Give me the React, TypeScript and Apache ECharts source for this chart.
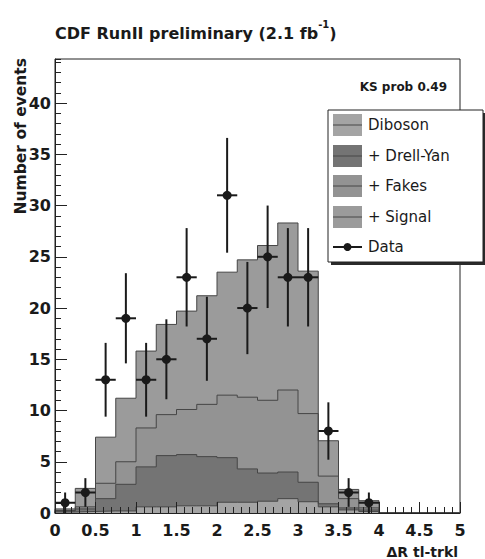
import React, { useEffect, useRef } from "react";
import * as echarts from "echarts";

// Lower edges of the ΔR bins (width 0.25)
const BIN_LOW = [0, 0.25, 0.5, 0.75, 1, 1.25, 1.5, 1.75, 2, 2.25, 2.5, 2.75, 3, 3.25, 3.5, 3.75, 4, 4.25, 4.5, 4.75];
const BIN_WIDTH = 0.25;

// Expected contributions per bin (events)
const DIBOSON = [0.1, 0.15, 0.2, 0.2, 0.6, 0.6, 0.7, 0.7, 1.05, 1.05, 1.15, 1.4, 1.1, 0.6, 0.3, 0.15, 0, 0, 0, 0];
const DRELL_YAN = [0.1, 0.25, 1.2, 2.6, 3.9, 5.0, 5.0, 4.8, 4.35, 3.25, 2.75, 2.6, 1.9, 0.3, 0.2, 0.15, 0, 0, 0, 0];
const FAKES = [0.05, 0.2, 1.5, 2.2, 3.8, 4.0, 4.4, 5.1, 6.1, 7.0, 7.1, 8.0, 6.7, 2.7, 0.9, 0.2, 0, 0, 0, 0];
const SIGNAL = [0.15, 1.8, 4.5, 6.2, 7.5, 8.8, 9.6, 10.6, 12.0, 13.4, 15.1, 16.3, 13.9, 3.45, 0.9, 0.7, 0, 0, 0, 0];

// Observed events (bin centres) with their uncertainties
const DATA_X = [0.125, 0.375, 0.625, 0.875, 1.125, 1.375, 1.625, 1.875, 2.125, 2.375, 2.625, 2.875, 3.125, 3.375, 3.625, 3.875];
const DATA_Y = [1, 2, 13, 19, 13, 15, 23, 17, 31, 20, 25, 23, 23, 8, 2, 1];
const DATA_ERR = [1, 1.4, 3.6, 4.4, 3.6, 3.9, 4.8, 4.1, 5.6, 4.5, 5, 4.8, 4.8, 2.8, 1.4, 1];

const LAYERS = [
  { name: "Diboson", values: DIBOSON, color: "#a4a4a4" },
  { name: "+ Drell-Yan", values: DRELL_YAN, color: "#747474" },
  { name: "+ Fakes", values: FAKES, color: "#939393" },
  { name: "+ Signal", values: SIGNAL, color: "#9b9b9b" },
];

const X_MIN = 0;
const X_MAX = 5;
const Y_MAX = 44.3;

const FONT = "DejaVu Sans";
const INK = "#1a1a1a";
const OUTLINE = "#464646";

function stepPoints(values: number[]) {
  const pts: number[][] = [[BIN_LOW[0], 0]];
  BIN_LOW.forEach((x, i) => pts.push([x, values[i]]));
  const last = values.length - 1;
  pts.push([BIN_LOW[last] + BIN_WIDTH, values[last]]);
  pts.push([BIN_LOW[last] + BIN_WIDTH, 0]);
  return pts;
}

export default function App() {
  const ref = useRef<HTMLDivElement>(null);

  useEffect(() => {
    if (!ref.current) return;
    const chart = echarts.init(ref.current, null, { renderer: "svg" });

    // cumulative stack, bottom to top
    const cumulative: number[][] = [];
    LAYERS.forEach((layer, k) => {
      cumulative.push(layer.values.map((v, i) => v + (k > 0 ? cumulative[k - 1][i] : 0)));
    });

    // draw the tallest stack first, each lower one filled from zero on top of it
    const histSeries = LAYERS.map((layer, k) => ({ layer, k }))
      .reverse()
      .map(({ layer, k }) => ({
        type: "line",
        name: layer.name,
        step: "end",
        symbol: "none",
        data: stepPoints(cumulative[k]),
        lineStyle: { color: OUTLINE, width: 1 },
        areaStyle: { color: layer.color, opacity: 1 },
        silent: true,
      }));

    const halfBin = BIN_WIDTH / 2;
    const dataSeries = {
      type: "custom",
      name: "Data",
      data: DATA_X.map((x, i) => [x, DATA_Y[i], DATA_ERR[i]]),
      encode: { x: 0, y: 1 },
      z: 10,
      renderItem: (params: any, api: any) => {
        const x = api.value(0);
        const y = api.value(1);
        const e = api.value(2);
        const c = api.coord([x, y]);
        const top = api.coord([x, y + e]);
        const bot = api.coord([x, Math.max(y - e, 0)]);
        const l = api.coord([x - halfBin, y]);
        const r = api.coord([x + halfBin, y]);
        return {
          type: "group",
          children: [
            { type: "line", shape: { x1: c[0], y1: top[1], x2: c[0], y2: bot[1] }, style: { stroke: INK, lineWidth: 2 } },
            { type: "line", shape: { x1: l[0], y1: c[1], x2: r[0], y2: c[1] }, style: { stroke: INK, lineWidth: 2 } },
            { type: "circle", shape: { cx: c[0], cy: c[1], r: 4.5 }, style: { fill: INK } },
          ],
        };
      },
    };

    const legendX = 328;
    const legendY = 110;
    const legendW = 155;
    const legendH = 152;
    const rowY = [125, 156, 186, 217, 247];
    const swX = 333;
    const swW = 29;
    const swH = 22;

    const legendGraphics: any[] = [
      { type: "rect", shape: { x: legendX + 3, y: legendY + 3, width: legendW, height: legendH }, style: { fill: "#2a2a2a" }, z: 20 },
      { type: "rect", shape: { x: legendX, y: legendY, width: legendW, height: legendH }, style: { fill: "#ffffff", stroke: "#222", lineWidth: 1 }, z: 21 },
    ];
    LAYERS.forEach((layer, i) => {
      legendGraphics.push(
        { type: "rect", shape: { x: swX, y: rowY[i] - swH / 2, width: swW, height: swH }, style: { fill: layer.color }, z: 22 },
        { type: "line", shape: { x1: swX, y1: rowY[i], x2: swX + swW, y2: rowY[i] }, style: { stroke: OUTLINE, lineWidth: 1 }, z: 23 },
        { type: "text", x: 368, y: rowY[i], style: { text: layer.name, fontFamily: FONT, fontSize: 15, fill: INK, verticalAlign: "middle", align: "left" }, z: 23 }
      );
    });
    legendGraphics.push(
      { type: "line", shape: { x1: swX, y1: rowY[4], x2: swX + swW, y2: rowY[4] }, style: { stroke: INK, lineWidth: 2 }, z: 23 },
      { type: "circle", shape: { cx: swX + swW / 2, cy: rowY[4], r: 4 }, style: { fill: INK }, z: 23 },
      { type: "text", x: 368, y: rowY[4], style: { text: "Data", fontFamily: FONT, fontSize: 15, fill: INK, verticalAlign: "middle", align: "left" }, z: 23 }
    );

    const option: any = {
      animation: false,
      backgroundColor: "#ffffff",
      title: {
        text: "{a|CDF RunII preliminary (2.1 fb}{s|-1}{a|)}",
        left: 50,
        top: 14,
        textStyle: {
          rich: {
            a: { fontFamily: FONT, fontWeight: "bold", fontSize: 16, color: INK, lineHeight: 22, verticalAlign: "bottom" },
            s: { fontFamily: FONT, fontWeight: "bold", fontSize: 10, color: INK, lineHeight: 22, verticalAlign: "top" },
          },
        },
      },
      grid: {
        left: 55,
        right: 25,
        top: 59,
        bottom: 46,
        show: true,
        backgroundColor: "#ffffff",
        borderColor: "#222",
        borderWidth: 1,
      },
      xAxis: {
        type: "value",
        min: X_MIN,
        max: X_MAX,
        interval: 0.5,
        z: 5,
        axisLine: { show: true, onZero: false, lineStyle: { color: "#222", width: 1 } },
        axisTick: { show: true, inside: true, length: 11, lineStyle: { color: "#222" } },
        minorTick: { show: true, splitNumber: 5, length: 6, lineStyle: { color: "#222" } },
        splitLine: { show: false },
        axisLabel: { fontFamily: FONT, fontWeight: "bold", fontSize: 16, color: INK, margin: 9 },
      },
      yAxis: [
        {
          type: "value",
          min: 0,
          max: Y_MAX,
          interval: 5,
          position: "left",
          z: 5,
          axisLine: { show: true, lineStyle: { color: "#222", width: 1 } },
          axisTick: { show: true, inside: true, length: 12, lineStyle: { color: "#222" } },
          splitLine: { show: false },
          axisLabel: { fontFamily: FONT, fontWeight: "bold", fontSize: 16, color: INK, margin: 4, showMaxLabel: false },
        },
        {
          type: "value",
          min: 0,
          max: Y_MAX,
          interval: 1,
          position: "left",
          offset: 0,
          z: 5,
          axisLine: { show: false },
          axisTick: { show: true, inside: true, length: 6, lineStyle: { color: "#222" } },
          splitLine: { show: false },
          axisLabel: { show: false },
        },
      ],
      graphic: [
        {
          type: "text",
          x: 21,
          y: 58,
          rotation: Math.PI / 2,
          style: { text: "Number of events", fontFamily: FONT, fontWeight: "bold", fontSize: 15.5, fill: INK, align: "right", verticalAlign: "middle" },
        },
        {
          type: "text",
          x: 458,
          y: 552,
          style: { text: "ΔR tl-trkl", fontFamily: FONT, fontWeight: "bold", fontSize: 14, fill: INK, align: "right", verticalAlign: "middle" },
        },
        {
          type: "text",
          x: 447,
          y: 87,
          style: { text: "KS prob 0.49", fontFamily: FONT, fontWeight: "bold", fontSize: 12, fill: INK, align: "right", verticalAlign: "middle" },
          z: 20,
        },
        ...legendGraphics,
      ],
      series: [...histSeries, dataSeries],
    };

    chart.setOption(option);
    return () => chart.dispose();
  }, []);

  return <div ref={ref} style={{ position: "fixed", left: 0, top: 0, width: 485, height: 559 }} />;
}
